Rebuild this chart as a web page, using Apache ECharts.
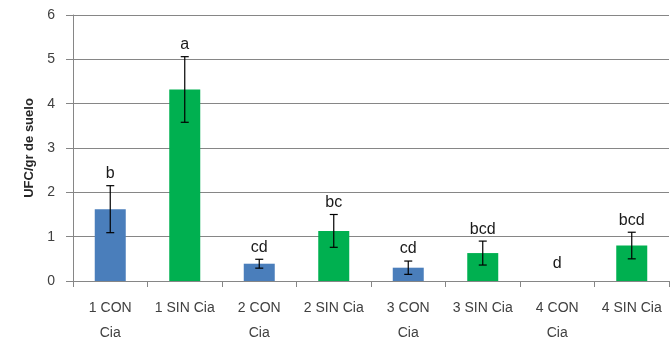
<!DOCTYPE html>
<html>
<head>
<meta charset="utf-8">
<script src="https://cdn.jsdelivr.net/npm/echarts@6/dist/echarts.min.js"></script>
<style>html,body{margin:0;padding:0;background:#fff;}#c{width:670px;height:342px;}</style>
</head>
<body>
<div id="c"></div>
<script>
const categories = ['1 CON\nCia', '1 SIN Cia', '2 CON\nCia', '2 SIN Cia', '3 CON\nCia', '3 SIN Cia', '4 CON\nCia', '4 SIN Cia'];
const groups = ['CON', 'SIN', 'CON', 'SIN', 'CON', 'SIN', 'CON', 'SIN'];
const means = [1.62, 4.32, 0.39, 1.13, 0.30, 0.63, 0, 0.80];
const errors = [0.53, 0.74, 0.10, 0.37, 0.15, 0.27, 0, 0.30];
const letters = ['b', 'a', 'cd', 'bc', 'cd', 'bcd', 'd', 'bcd'];
const yTicks = [0, 1, 2, 3, 4, 5, 6];

const groupColor = { CON: '#4a7ebb', SIN: '#00b050' };
const FONT = '"Liberation Sans", Arial, sans-serif';

const chart = echarts.init(document.getElementById('c'));
chart.setOption({
  animation: false,
  backgroundColor: '#fff',
  grid: { left: 73, right: 1, top: 15, bottom: 61, containLabel: false, outerBoundsMode: 'none' },
  xAxis: {
    type: 'category',
    data: categories,
    axisLine: { lineStyle: { color: '#868686', width: 1 } },
    axisTick: { show: true, length: 6, lineStyle: { color: '#868686' } },
    axisLabel: { color: '#404040', fontSize: 14, fontFamily: FONT, lineHeight: 25, margin: 15, interval: 0 }
  },
  yAxis: {
    type: 'value',
    min: yTicks[0],
    max: yTicks[yTicks.length - 1],
    interval: 1,
    name: 'UFC/gr de suelo',
    nameLocation: 'middle',
    nameRotate: 90,
    nameGap: 37,
    nameTextStyle: { color: '#262626', fontSize: 13, fontWeight: 'bold', fontFamily: FONT },
    axisLine: { show: true, lineStyle: { color: '#868686', width: 1 } },
    axisTick: { show: true, length: 7, lineStyle: { color: '#868686' } },
    axisLabel: { color: '#404040', fontSize: 14, fontFamily: FONT, margin: 18 },
    splitLine: { show: true, lineStyle: { color: '#868686', width: 1 } }
  },
  series: [
    {
      type: 'bar',
      data: means.map((m, i) => ({ value: m, itemStyle: { color: groupColor[groups[i]] } })),
      barWidth: 31
    },
    {
      type: 'custom',
      data: means.map((m, i) => [i, m, errors[i]]),
      z: 5,
      renderItem: function (params, api) {
        const i = api.value(0);
        const m = api.value(1);
        const e = api.value(2);
        const top = api.coord([i, m + e]);
        const bot = api.coord([i, m - e]);
        const children = [];
        const st = { stroke: '#000', lineWidth: 1.2 };
        if (e > 0) {
          children.push({ type: 'line', shape: { x1: top[0], y1: top[1], x2: bot[0], y2: bot[1] }, style: st });
          children.push({ type: 'line', shape: { x1: top[0] - 4, y1: top[1], x2: top[0] + 4, y2: top[1] }, style: st });
          children.push({ type: 'line', shape: { x1: bot[0] - 4, y1: bot[1], x2: bot[0] + 4, y2: bot[1] }, style: st });
        }
        const gap = e > 0 ? 4 : 9;
        children.push({
          type: 'text',
          style: {
            x: top[0], y: top[1] - gap,
            text: letters[params.dataIndex],
            fill: '#1a1a1a',
            font: '16px ' + FONT,
            align: 'center',
            verticalAlign: 'bottom'
          }
        });
        return { type: 'group', children: children };
      }
    }
  ]
});
</script>
</body>
</html>
